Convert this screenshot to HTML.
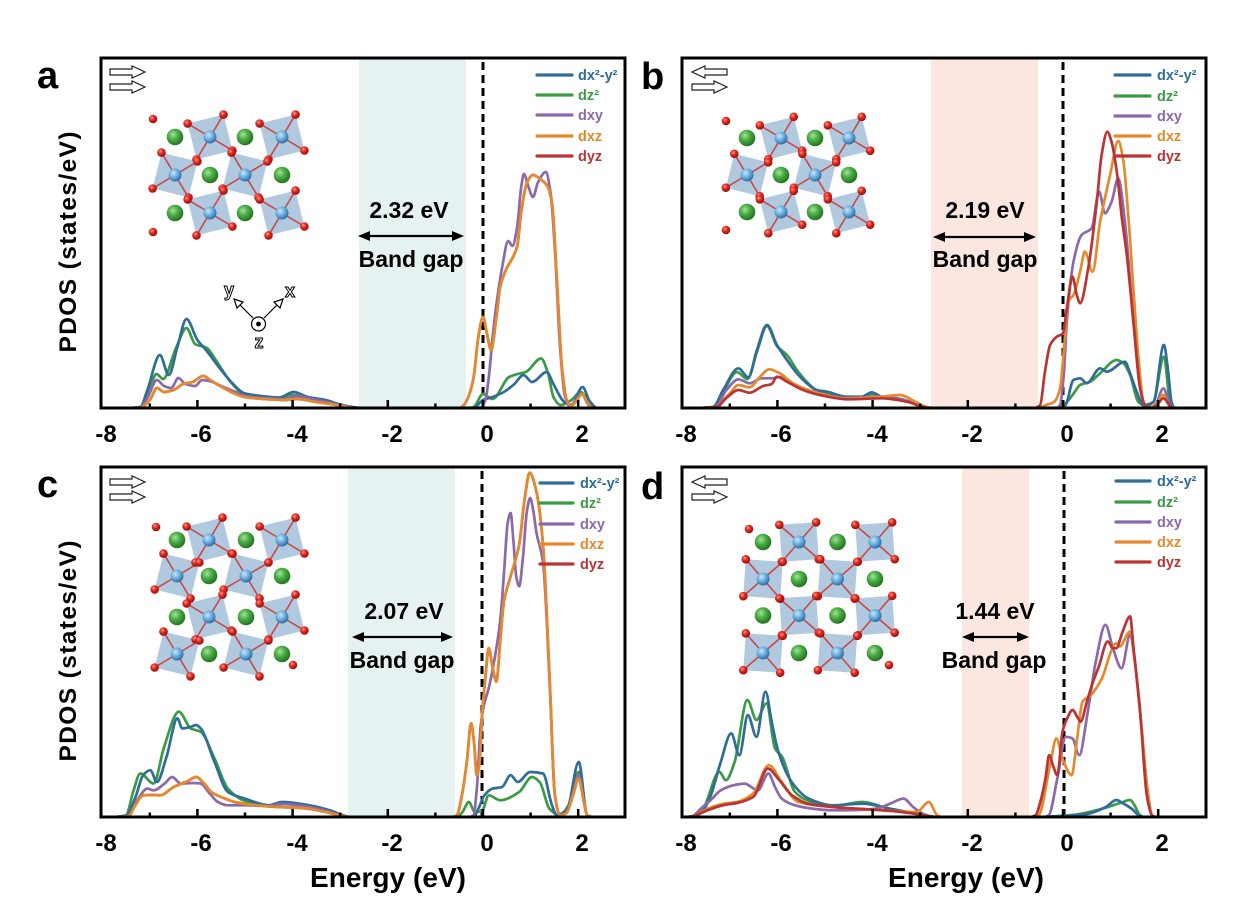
<!DOCTYPE html>
<html><head><meta charset="utf-8">
<style>
html,body{margin:0;padding:0;background:#fff;}
svg{display:block;}
text{font-family:"Liberation Sans",Arial,sans-serif;}
</style></head>
<body>
<svg id="s" width="1254" height="922" viewBox="0 0 1254 922" xmlns="http://www.w3.org/2000/svg">
<defs>
<radialGradient id="gG" cx="38%" cy="35%" r="65%"><stop offset="0" stop-color="#a6e39a"/><stop offset="0.45" stop-color="#4cae48"/><stop offset="1" stop-color="#23731f"/></radialGradient>
<radialGradient id="gB" cx="38%" cy="35%" r="65%"><stop offset="0" stop-color="#c9e6fa"/><stop offset="0.5" stop-color="#6fb0df"/><stop offset="1" stop-color="#2f6fa6"/></radialGradient>
<radialGradient id="gR" cx="38%" cy="35%" r="65%"><stop offset="0" stop-color="#ff9a8a"/><stop offset="0.45" stop-color="#e02a20"/><stop offset="1" stop-color="#9a0e0a"/></radialGradient>
<clipPath id="ca"><rect x="101" y="58" width="524" height="350"/></clipPath>
<clipPath id="cb"><rect x="682" y="58" width="524" height="350"/></clipPath>
<clipPath id="cc"><rect x="101" y="467" width="524" height="350"/></clipPath>
<clipPath id="cd"><rect x="682" y="467" width="524" height="350"/></clipPath>
</defs>

<!-- band gap shading -->
<rect x="359" y="58" width="107" height="350" fill="#e6f1f2"/>
<rect x="931" y="58" width="107" height="350" fill="#fbe7e0"/>
<rect x="348" y="467" width="107" height="350" fill="#e6f1f2"/>
<rect x="962" y="467" width="67" height="350" fill="#fbe7e0"/>

<!-- dashed zero lines -->
<g stroke="#000" stroke-width="3" stroke-dasharray="8,5">
<line x1="483" y1="62" x2="483" y2="408"/>
<line x1="1063" y1="62" x2="1063" y2="408"/>
<line x1="482" y1="471" x2="482" y2="817"/>
<line x1="1064" y1="471" x2="1064" y2="817"/>
</g>

<g id="curves"></g>

<!-- frames -->
<g fill="none" stroke="#000" stroke-width="3">
<rect x="101" y="58" width="524" height="350"/>
<rect x="682" y="58" width="524" height="350"/>
<rect x="101" y="467" width="524" height="350"/>
<rect x="682" y="467" width="524" height="350"/>
</g>
<g id="ticks" stroke="#000" stroke-width="2.5"></g>

<!-- tick labels -->
<g font-size="24" font-weight="bold" text-anchor="middle" fill="#000">
<text x="106" y="442">-8</text><text x="201" y="442">-6</text><text x="297" y="442">-4</text><text x="392" y="442">-2</text><text x="487" y="442">0</text><text x="582" y="442">2</text>
<text x="686" y="442">-8</text><text x="781" y="442">-6</text><text x="877" y="442">-4</text><text x="972" y="442">-2</text><text x="1067" y="442">0</text><text x="1162" y="442">2</text>
<text x="106" y="851">-8</text><text x="201" y="851">-6</text><text x="297" y="851">-4</text><text x="392" y="851">-2</text><text x="487" y="851">0</text><text x="582" y="851">2</text>
<text x="686" y="851">-8</text><text x="781" y="851">-6</text><text x="877" y="851">-4</text><text x="972" y="851">-2</text><text x="1067" y="851">0</text><text x="1162" y="851">2</text>
</g>

<!-- axis titles -->
<g font-weight="bold" fill="#000">
<text transform="translate(76,242) rotate(-90)" text-anchor="middle" font-size="24.5" textLength="221">PDOS (states/eV)</text>
<text transform="translate(76,651) rotate(-90)" text-anchor="middle" font-size="24.5" textLength="221">PDOS (states/eV)</text>
<text x="388" y="887" text-anchor="middle" font-size="28" textLength="156">Energy (eV)</text>
<text x="966" y="887" text-anchor="middle" font-size="28" textLength="156">Energy (eV)</text>
</g>

<!-- panel letters -->
<g font-weight="bold" font-size="38" fill="#000">
<text x="37" y="88">a</text>
<text x="641" y="89">b</text>
<text x="37" y="497">c</text>
<text x="641" y="499">d</text>
</g>

<!-- band gap annotations -->
<g font-weight="bold" font-size="23" text-anchor="middle" fill="#000">
<text x="409" y="218">2.32 eV</text><text x="411" y="267">Band gap</text>
<text x="985" y="218">2.19 eV</text><text x="985" y="267">Band gap</text>
<text x="404" y="619">2.07 eV</text><text x="402" y="668">Band gap</text>
<text x="995" y="619">1.44 eV</text><text x="994" y="668">Band gap</text>
</g>
<g id="barrows"></g>

<!-- legends -->
<g id="legends" font-weight="bold" font-size="14.5"></g>

<g id="crys"></g>
<g id="spin"></g>

<!-- xyz axes symbol panel a -->
<g stroke="#000" stroke-width="1.2" fill="#fff">
<line x1="253" y1="318" x2="238" y2="303" fill="none"/>
<polygon points="234,299 243,302 237,308"/>
<line x1="264" y1="318" x2="279" y2="303" fill="none"/>
<polygon points="283,299 280,308 274,302"/>
<circle cx="258.5" cy="324" r="7"/>
<circle cx="258.5" cy="324" r="1.8" fill="#000"/>
</g>
<g font-size="18" font-weight="bold" fill="#fff" stroke="#000" stroke-width="1" text-anchor="middle">
<text x="229" y="296">y</text>
<text x="290" y="297">x</text>
<text x="259" y="348">z</text>
</g>
</svg>
<script>
(function(){
const NS="http://www.w3.org/2000/svg";
const S=47.6;
function el(tag,attrs,parent){const e=document.createElementNS(NS,tag);for(const k in attrs)e.setAttribute(k,attrs[k]);parent.appendChild(e);return e;}
const P={
 a:{x0:483,L:101,R:625,T:58,B:408},
 b:{x0:1063,L:682,R:1206,T:58,B:408},
 c:{x0:483,L:101,R:625,T:467,B:817},
 d:{x0:1063,L:682,R:1206,T:467,B:817}
};
const C={b:"#2f6d98",g:"#3b9a45",p:"#8c6aaa",o:"#e5892d",r:"#bb3434"};

function mono(pts){
 const n=pts.length;const x=pts.map(p=>p[0]),y=pts.map(p=>p[1]);
 const d=[];for(let i=0;i<n-1;i++){const dx=x[i+1]-x[i];d.push(dx===0?0:(y[i+1]-y[i])/dx);}
 const m=new Array(n);
 m[0]=d[0];m[n-1]=d[n-2];
 for(let i=1;i<n-1;i++){
  if(d[i-1]*d[i]<=0)m[i]=0;
  else{const w1=2*(x[i+1]-x[i])+(x[i]-x[i-1]),w2=(x[i+1]-x[i])+2*(x[i]-x[i-1]);
   m[i]=(w1+w2)/(w1/d[i-1]+w2/d[i]);}
 }
 let s="M"+x[0].toFixed(1)+","+y[0].toFixed(1);
 for(let i=0;i<n-1;i++){
  const h=(x[i+1]-x[i])/3;
  s+="C"+(x[i]+h).toFixed(1)+","+(y[i]+m[i]*h).toFixed(1)+" "+(x[i+1]-h).toFixed(1)+","+(y[i+1]-m[i+1]*h).toFixed(1)+" "+x[i+1].toFixed(1)+","+y[i+1].toFixed(1);
 }
 return s;
}
const cg=document.getElementById('curves');
function curve(pn,col,data){
 const p=P[pn];
 const g=cg.querySelector('#g'+pn)||el('g',{id:'g'+pn,'clip-path':'url(#c'+pn+')'},cg);
 const pts=data.map(([E,h])=>[p.x0+S*E,p.B-h]);
 el('path',{d:mono(pts),fill:'none',stroke:C[col],'stroke-width':2.7,'stroke-linejoin':'round','stroke-linecap':'round'},g);
}

// ---------- Panel a ----------
const aO=[[-7.4,0],[-7.2,0.5],[-7.0,8],[-6.85,20],[-6.7,16],[-6.5,18],[-6.3,24],[-6.1,26],[-5.88,32],[-5.7,27],[-5.45,20],[-5.2,14],[-5.0,11],[-4.6,9],[-4.2,8],[-3.9,9],[-3.5,6],[-3.2,4],[-2.9,1.5],[-2.7,0],[-0.5,0],[-0.4,3],[-0.3,12],[-0.2,30],[-0.1,70],[0.0,91],[0.08,75],[0.17,58],[0.28,90],[0.36,121],[0.5,140],[0.62,150],[0.72,162],[0.8,195],[0.92,225],[1.05,233],[1.2,229],[1.35,222],[1.45,205],[1.55,130],[1.66,40],[1.76,8],[1.85,2],[1.95,6],[2.08,14],[2.2,5],[2.3,0],[3.1,0]];
curve('a','r',aO);
curve('a','g',[[-7.4,0],[-7.2,1],[-7.05,12],[-6.86,34],[-6.72,29],[-6.45,60],[-6.23,80],[-6.05,64],[-5.8,60],[-5.6,47],[-5.3,26],[-5.05,15],[-4.6,11],[-4.3,10],[-4.0,13],[-3.7,10],[-3.3,7],[-3.0,3],[-2.7,0.3],[-2.5,0],[-0.35,0],[-0.2,1],[0,14],[0.2,9],[0.55,31],[0.73,34],[0.9,36],[1.22,49.5],[1.37,34],[1.48,11],[1.63,3],[1.86,8],[2.05,16],[2.24,4],[2.35,0],[3.1,0]]);
curve('a','b',[[-7.4,0],[-7.2,1],[-7.05,18],[-6.79,53],[-6.6,33],[-6.42,61],[-6.23,89],[-6.0,68],[-5.82,58],[-5.55,41],[-5.25,24],[-5.03,15],[-4.66,12],[-4.28,10.5],[-3.98,16],[-3.68,11],[-3.31,8],[-3.01,3.7],[-2.67,0.5],[-2.5,0],[-0.2,0],[0,8],[0.2,11],[0.44,16],[0.66,24],[0.85,33],[1.03,26],[1.34,36],[1.48,24],[1.71,6],[1.86,3],[2.09,21],[2.24,7],[2.4,0],[3.1,0]]);
curve('a','p',[[-7.4,0],[-7.2,0.5],[-7.05,10],[-6.85,28],[-6.7,22],[-6.55,20],[-6.4,30],[-6.25,24],[-6.05,22],[-5.9,28],[-5.75,27],[-5.5,22],[-5.2,16],[-5.0,12],[-4.6,10],[-4.2,9],[-3.9,12],[-3.5,8],[-3.2,5],[-2.9,2],[-2.7,0],[-0.15,0],[-0.05,0.5],[0.05,8],[0.12,30],[0.2,70],[0.3,110],[0.4,140],[0.53,167],[0.62,162],[0.72,182],[0.8,220],[0.86,234],[0.95,222],[1.05,211],[1.15,225],[1.32,236],[1.42,215],[1.52,150],[1.62,60],[1.72,12],[1.82,2],[1.95,8],[2.08,14],[2.2,4],[2.3,0],[3.1,0]]);
curve('a','o',aO);

// ---------- Panel b ----------
curve('b','g',[[-7.6,0],[-7.35,1],[-7.14,16],[-6.85,36],[-6.63,29],[-6.43,56],[-6.22,82],[-6.01,62],[-5.8,53],[-5.59,38],[-5.38,26],[-5.18,18],[-4.96,15.5],[-4.54,10.5],[-4.23,10.5],[-4.02,14],[-3.78,10],[-3.49,9],[-3.21,6],[-3.0,2],[-2.74,0],[-0.1,0],[0.02,3],[0.2,13],[0.36,23],[0.57,26.3],[0.78,34.7],[1.13,48],[1.27,44.7],[1.41,33],[1.58,6.3],[1.75,2],[1.9,6],[2.12,51.3],[2.25,6],[2.35,0],[3.1,0]]);
curve('b','b',[[-7.6,0],[-7.35,1],[-7.14,18],[-6.82,39.7],[-6.61,30.7],[-6.43,58],[-6.22,83],[-6.01,63],[-5.8,48],[-5.59,34.7],[-5.38,24.7],[-5.18,18],[-4.96,16.3],[-4.54,11.3],[-4.23,11.3],[-4.02,15.7],[-3.78,10.7],[-3.49,9.7],[-3.21,6.3],[-3.0,2],[-2.74,0],[-0.1,0],[0.05,3],[0.22,28],[0.36,29.7],[0.5,24.7],[0.78,39.7],[0.92,36.3],[1.3,46.3],[1.4,36],[1.55,16],[1.69,3],[1.9,6],[2.12,63],[2.21,36],[2.28,6],[2.35,0],[3.1,0]]);
curve('b','p',[[-7.6,0],[-7.3,1],[-7.07,18],[-6.82,28.7],[-6.58,24.7],[-6.33,29.7],[-6.12,29.7],[-5.95,31],[-5.74,26],[-5.46,19.7],[-5.11,14.7],[-4.54,9.7],[-3.98,11],[-3.49,9.7],[-3.14,4.7],[-2.86,0.7],[-2.7,0],[-0.15,0],[-0.06,3],[0.02,36.3],[0.08,86.3],[0.22,146.3],[0.39,173],[0.6,179.7],[0.76,216.3],[0.88,194.7],[1.02,206.3],[1.16,229.7],[1.3,186.3],[1.48,86.3],[1.62,20],[1.72,3],[1.85,0],[1.95,4],[2.11,19.7],[2.25,3],[2.35,0],[3.1,0]]);
curve('b','o',[[-7.6,0],[-7.3,1],[-7.0,14.7],[-6.82,23],[-6.58,20.7],[-6.37,31],[-6.17,38.7],[-5.95,34.7],[-5.67,24.7],[-5.25,16.3],[-4.54,9.7],[-3.84,11.3],[-3.42,13],[-3.14,7.3],[-2.93,2],[-2.75,0],[-0.5,0],[-0.36,3],[-0.19,6],[-0.06,19.7],[0.02,59.7],[0.11,106.3],[0.22,113],[0.36,136.3],[0.46,156.3],[0.62,136.3],[0.78,186.3],[0.99,233],[1.16,267],[1.27,246.3],[1.37,193],[1.48,119.7],[1.58,53],[1.69,6.3],[1.8,0],[1.95,3],[2.11,13],[2.22,3],[2.3,0],[3.1,0]]);
curve('b','r',[[-7.6,0],[-7.28,1],[-7.05,11],[-6.82,18],[-6.58,15.3],[-6.3,22],[-6.12,24],[-6.01,31.3],[-5.8,26.3],[-5.46,18],[-5.11,13],[-4.5,8.7],[-3.8,9.7],[-3.28,6.3],[-3.0,2],[-2.8,0],[-0.6,0],[-0.48,3],[-0.38,36],[-0.27,63],[-0.13,71.3],[0,74.7],[0.08,99.7],[0.2,131.3],[0.29,113],[0.36,104.7],[0.53,139.7],[0.71,206.3],[0.81,253],[0.93,276.3],[1.02,266],[1.13,236.3],[1.23,193],[1.34,153],[1.48,86.3],[1.62,19.7],[1.72,3],[1.85,0],[1.97,3],[2.11,9.7],[2.25,2],[2.3,0],[3.1,0]]);

// ---------- Panel c ----------
const cO=[[-7.7,0],[-7.45,1],[-7.3,12],[-7.14,21.7],[-6.95,22],[-6.78,21.7],[-6.5,30],[-6.2,36],[-6.03,40],[-5.85,33],[-5.71,25],[-5.4,18],[-5.22,15],[-4.8,12],[-4.3,10],[-3.8,9],[-3.3,5],[-3.0,1.5],[-2.8,0],[-0.65,0],[-0.55,1.7],[-0.45,20],[-0.34,55],[-0.25,93.6],[-0.19,75],[-0.13,41.8],[-0.07,55],[-0.02,101.9],[0.05,140],[0.12,168.8],[0.2,150],[0.28,135.4],[0.36,175],[0.44,215.6],[0.58,240.7],[0.76,272.4],[0.88,320],[0.98,344.3],[1.12,325.9],[1.26,272.4],[1.4,138.7],[1.51,21.7],[1.62,1.7],[1.75,4],[1.88,20],[2.01,38.4],[2.12,15],[2.19,1.7],[2.25,0],[3.1,0]];
curve('c','r',cO);
curve('c','g',[[-7.7,0],[-7.5,1.7],[-7.35,25],[-7.2,43.5],[-6.92,33.5],[-6.7,70],[-6.39,105.3],[-6.14,88.6],[-5.93,85.2],[-5.64,58.5],[-5.36,28.4],[-5.0,16],[-4.5,11],[-4.22,14],[-3.65,10],[-3.22,5],[-2.94,1],[-2.8,0],[-0.55,0],[-0.43,5],[-0.3,15],[-0.17,5],[-0.02,6],[0.12,21.7],[0.36,16.7],[0.76,25],[1.03,40],[1.19,35],[1.4,8],[1.62,1.7],[1.8,12],[2.01,45],[2.19,1.7],[2.3,0],[3.1,0]]);
curve('c','b',[[-7.7,0],[-7.49,1.7],[-7.3,20],[-7.14,41.8],[-6.99,46.8],[-6.85,35],[-6.65,60],[-6.42,98.6],[-6.32,88.6],[-6.15,90],[-6.03,92],[-5.93,88.6],[-5.64,55],[-5.36,25],[-5.0,18.4],[-4.5,11.7],[-4.22,15],[-3.65,11.7],[-3.22,6.7],[-2.94,1.7],[-2.8,0],[-0.2,0],[-0.1,8],[0.03,21.7],[0.2,28.4],[0.4,30],[0.58,41.8],[0.73,35],[0.99,45],[1.26,43.5],[1.45,11.7],[1.55,1.7],[1.77,8],[2.01,55],[2.19,1.7],[2.3,0],[3.1,0]]);
curve('c','p',[[-7.7,0],[-7.45,1],[-7.25,18],[-7.05,28.4],[-6.92,26.7],[-6.7,33],[-6.53,40],[-6.35,33.4],[-6.1,34],[-5.93,33.4],[-5.75,24],[-5.57,15],[-5.36,11.7],[-5.0,11.7],[-4.5,11],[-4.22,13],[-3.65,10],[-3.22,5],[-2.94,1],[-2.8,0],[-0.3,0],[-0.2,1.7],[-0.13,28],[-0.05,90],[0.02,112],[0.12,128.7],[0.25,160],[0.36,195.6],[0.45,250],[0.52,295],[0.58,304],[0.64,275],[0.7,240],[0.76,230.7],[0.84,260],[0.92,305],[0.99,319],[1.06,305],[1.12,285],[1.26,255],[1.4,135],[1.51,21.7],[1.62,1.7],[1.75,4],[1.88,22],[2.01,42],[2.12,15],[2.19,1.7],[2.25,0],[3.1,0]]);
curve('c','o',cO);

// ---------- Panel d ----------
curve('d','g',[[-7.9,0],[-7.7,0.5],[-7.54,10],[-7.22,45.1],[-7.08,36.8],[-6.9,55],[-6.63,117],[-6.44,97],[-6.23,113.7],[-6.05,68.5],[-5.9,60],[-5.63,25],[-5.34,16],[-4.84,11],[-4.21,15],[-3.64,8],[-3.07,3],[-2.64,0],[-0.6,0],[0.2,2],[0.8,8],[1.2,14],[1.41,17],[1.5,12],[1.62,1.7],[1.7,0],[3.1,0]]);
curve('d','b',[[-7.9,0],[-7.76,0.5],[-7.54,8],[-7.4,21.7],[-7.19,55.1],[-6.97,83.6],[-6.8,61.8],[-6.62,101.9],[-6.44,80.2],[-6.25,125.3],[-6.12,95.3],[-5.98,65.2],[-5.7,35],[-5.34,18.4],[-4.84,11.7],[-4.21,13.4],[-3.64,8.4],[-3.07,3.3],[-2.64,0],[-0.6,0],[0,1],[0.5,3],[0.9,10],[1.12,17],[1.25,14],[1.45,8],[1.6,1.5],[1.7,0],[3.1,0]]);
curve('d','p',[[-7.9,0],[-7.8,0.5],[-7.61,8.4],[-7.4,17],[-7.19,26.7],[-6.9,32],[-6.69,33.4],[-6.41,26.7],[-6.19,43.5],[-6.05,30],[-5.91,18.4],[-5.63,11.7],[-5.2,8],[-4.84,6.7],[-4.3,7],[-3.92,8.4],[-3.6,14],[-3.35,18.4],[-3.15,10],[-2.93,3],[-2.7,0],[-0.4,0],[-0.3,1.7],[-0.12,38.4],[0.06,80.2],[0.2,78.5],[0.34,61.8],[0.52,105.3],[0.69,155.4],[0.89,192.1],[1.05,168.8],[1.23,148.7],[1.41,182.2],[1.51,155],[1.62,105],[1.79,21.7],[1.87,1.7],[1.95,0],[3.1,0]]);
curve('d','o',[[-7.9,0],[-7.75,1],[-7.61,5],[-7.12,13.4],[-6.85,15],[-6.51,23.4],[-6.18,51.8],[-5.91,35],[-5.56,15],[-4.84,10],[-3.78,6.7],[-3.07,5],[-2.82,15],[-2.64,1.7],[-2.55,0],[-0.6,0],[-0.51,1.7],[-0.26,55.1],[-0.14,78.5],[-0.01,58.5],[0.18,41.8],[0.3,80],[0.41,115.3],[0.59,122],[0.8,137],[1.12,173.8],[1.19,170.5],[1.41,185.5],[1.51,155],[1.62,105],[1.79,21.7],[1.87,1.7],[1.95,0],[3.1,0]]);
curve('d','r',[[-7.9,0],[-7.75,1],[-7.61,4],[-7.12,12],[-6.85,14],[-6.51,20],[-6.2,48.5],[-5.98,38],[-5.7,22],[-5.34,13],[-4.84,10],[-4.2,8],[-3.6,6],[-3.07,3],[-2.64,0],[-0.7,0],[-0.58,1.7],[-0.45,20],[-0.37,38.4],[-0.29,61.8],[-0.2,50],[-0.12,41.8],[-0.01,85.2],[0.1,100],[0.2,107],[0.3,100],[0.37,95.3],[0.5,115],[0.62,133.7],[0.75,150],[0.94,175.5],[1.05,168.8],[1.12,168.8],[1.25,185],[1.41,200.6],[1.48,170],[1.62,105.3],[1.76,21.7],[1.87,1.7],[1.95,0],[3.1,0]]);

// ---------- ticks ----------
const tg=document.getElementById('ticks');
for(const k in P){const p=P[k];
 for(let E=-7;E<=2;E++){const x=p.x0+S*E;const len=(E%2===0)?8:4.5;
  el('line',{x1:x,y1:p.B,x2:x,y2:p.B-len},tg);}
}

// ---------- band gap arrows ----------
const bg=document.getElementById('barrows');
function barrow(x1,x2,y){
 el('line',{x1:x1+8,y1:y,x2:x2-8,y2:y,stroke:'#000','stroke-width':2.2},bg);
 el('polygon',{points:`${x1},${y} ${x1+12},${y-5} ${x1+12},${y+5}`,fill:'#000'},bg);
 el('polygon',{points:`${x2},${y} ${x2-12},${y-5} ${x2-12},${y+5}`,fill:'#000'},bg);
}
barrow(358,464,236);barrow(933,1036,237);barrow(352,453,637);barrow(962,1029,637);

// ---------- legends ----------
const lg=document.getElementById('legends');
const labels=[['b','dx²-y²'],['g','dz²'],['p','dxy'],['o','dxz'],['r','dyz']];
function legend(ys,lx1,lx2,tx){
 labels.forEach(([c,t],i)=>{
  el('line',{x1:lx1,y1:ys[i],x2:lx2,y2:ys[i],stroke:C[c],'stroke-width':3.2,'stroke-linecap':'round'},lg);
  const te=el('text',{x:tx,y:ys[i]+5,fill:C[c]},lg);te.textContent=t;
 });
}
legend([75,95,115,136,156],537,572,578);
legend([75,96,116,136,156],1115,1150,1157);
legend([483,503,524,544,564],540,573,580);
legend([481,502,522,542,562],1116,1150,1157);

// ---------- spin arrows ----------
const sg=document.getElementById('spin');
function sarrow(x0,yc,dir){
 let pts=[[0,-3],[22,-3],[22,-6],[35,0],[22,6],[22,3],[0,3]];
 if(dir<0)pts=pts.map(([x,y])=>[35-x,y]);
 el('polygon',{points:pts.map(([x,y])=>(x0+x)+','+(yc+y)).join(' '),fill:'#fff',stroke:'#222','stroke-width':1.2},sg);
}
sarrow(110,72,1);sarrow(110,87,1);
sarrow(692,72,-1);sarrow(692,87,1);
sarrow(110,482,1);sarrow(110,497,1);
sarrow(692,482,-1);sarrow(692,497,1);

// ---------- crystal structures ----------
const crg=document.getElementById('crys');
function crystal(cols,rows,h,tilt,extras){
 const g=el('g',{},crg);
 const oct=[],greens=[],reds=[];
 rows.forEach((y,r)=>cols.forEach((x,c)=>{
  if((r+c)%2===1)oct.push([x,y,(r%2?tilt:-tilt)]);else greens.push([x,y]);
 }));
 const sq=el('g',{},g),bd=el('g',{},g),bl=el('g',{},g),rd=el('g',{},g),gr=el('g',{},g);
 oct.forEach(([x,y,t])=>{
  const a=t*Math.PI/180,cs=Math.cos(a),sn=Math.sin(a);
  const pts=[[-h,-h],[h,-h],[h,h],[-h,h]].map(([dx,dy])=>[x+dx*cs-dy*sn,y+dx*sn+dy*cs]);
  el('polygon',{points:pts.map(p=>p[0].toFixed(1)+','+p[1].toFixed(1)).join(' '),fill:'#a7c3db','fill-opacity':0.9},sq);
  pts.forEach(p=>{reds.push(p);
   el('line',{x1:x,y1:y,x2:p[0],y2:p[1],stroke:'#c84848','stroke-width':1.6},bd);});
  el('circle',{cx:x,cy:y,r:6.5,fill:'url(#gB)'},bl);
 });
 (extras||[]).forEach(p=>reds.push(p));
 reds.forEach(p=>el('circle',{cx:p[0].toFixed(1),cy:p[1].toFixed(1),r:4.3,fill:'url(#gR)'},rd));
 greens.forEach(([x,y])=>el('circle',{cx:x,cy:y,r:8.3,fill:'url(#gG)'},gr));
}
crystal([175,210,245,282],[137,175,213],18.5,14,[[153,119],[153,232]]);
crystal([747,781,815,849],[138,175,212],17.5,14,[[726,121],[726,230]]);
crystal([177,209,246,282],[540,576,617,654],18.5,14,[[156,527],[293,665]]);
crystal([763,799,837.5,875],[542,579,615.5,653],18.5,4,[[749,529],[889,665]]);
})();
</script>
</body></html>
